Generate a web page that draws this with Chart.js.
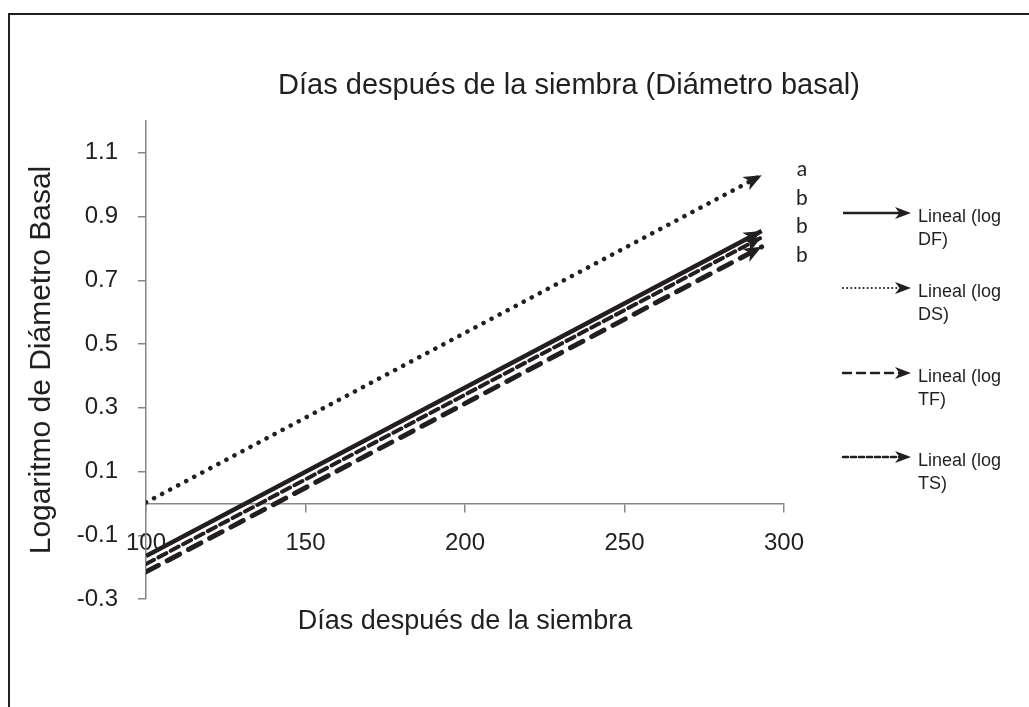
<!DOCTYPE html>
<html lang="es">
<head>
<meta charset="UTF-8">
<title>Diámetro basal</title>
<script src="https://cdn.jsdelivr.net/npm/chart.js"></script>
<style>
  body { margin: 0; background: #fff; overflow: hidden; }
  #marco { position: absolute; left: 8px; top: 13px; width: 1100px; height: 800px; border: 2px solid #231f20; }
  #contenedor { position: absolute; left: 0; top: 0; width: 1029px; height: 707px; }
</style>
</head>
<body>
<div id="marco"></div>
<div id="contenedor"><canvas id="grafico"></canvas></div>
<script>
// datos (líneas de tendencia)
const dias = [100, 293];
const logDF = [-0.165, 0.855];
const logDS = [0.003, 1.03];
const logTF = [-0.215, 0.805];
const logTS = [-0.19, 0.835];
const nombres = ['Lineal (log DF)', 'Lineal (log DS)', 'Lineal (log TF)', 'Lineal (log TS)'];
const letras = ['a', 'b', 'b', 'b'];
const ticksY = [-0.3, -0.1, 0.1, 0.3, 0.5, 0.7, 0.9, 1.1];
const ticksX = [100, 150, 200, 250, 300];

const negro = '#231f20';
const gris = '#868686';
const fuente = '"Liberation Sans", Arial, sans-serif';

function puntos(ys) {
    return dias.map((x, i) => ({ x: x, y: ys[i] }));
}

function punta(ctx, x, y, ang, largo, ancho) {
    ctx.save();
    ctx.translate(x, y);
    ctx.rotate(ang);
    ctx.beginPath();
    ctx.moveTo(0, 0);
    ctx.lineTo(-largo, -ancho / 2);
    ctx.lineTo(-largo * 0.72, 0);
    ctx.lineTo(-largo, ancho / 2);
    ctx.closePath();
    ctx.fillStyle = negro;
    ctx.fill();
    ctx.restore();
}

// estilos de cada serie (gráfico y leyenda)
const estilos = [
    { w: 4.5, dash: [], lw: 2.5, ldash: [] },
    { w: 4.5, dash: [0.1, 9], lw: 2, ldash: [0.1, 4] },
    { w: 5, dash: [14, 10], lw: 2.5, ldash: [8, 6] },
    { w: 4, dash: [9, 5], lw: 2.5, ldash: [5, 3] }
];

const flechas = {
    id: 'flechas',
    afterDatasetsDraw(chart) {
        const ctx = chart.ctx;
        chart.data.datasets.forEach((ds, i) => {
            const pts = chart.getDatasetMeta(i).data;
            const a = pts[pts.length - 2], b = pts[pts.length - 1];
            punta(ctx, b.x, b.y, Math.atan2(b.y - a.y, b.x - a.x), 18, 15);
        });
    }
};

const textos = {
    id: 'textos',
    afterDraw(chart) {
        const ctx = chart.ctx;
        const area = chart.chartArea;
        ctx.save();
        ctx.fillStyle = negro;
        // título
        ctx.font = '29px ' + fuente;
        ctx.textAlign = 'center';
        ctx.textBaseline = 'alphabetic';
        ctx.fillText('Días después de la siembra (Diámetro basal)', 569, 94);
        // letras de significancia
        ctx.font = '21px Lato, sans-serif';
        const yl = [176, 205, 233, 262];
        letras.forEach((t, i) => ctx.fillText(t, area.right + 18, yl[i]));
        // leyenda
        const yLeyenda = [213, 288, 373, 457];
        ctx.textAlign = 'left';
        ctx.font = '18px ' + fuente;
        nombres.forEach((n, i) => {
            const y = yLeyenda[i];
            const e = estilos[i];
            ctx.strokeStyle = negro;
            ctx.lineWidth = e.lw;
            ctx.lineCap = e.ldash.length ? 'round' : 'butt';
            ctx.setLineDash(e.ldash);
            ctx.beginPath();
            ctx.moveTo(843, y);
            ctx.lineTo(900, y);
            ctx.stroke();
            ctx.setLineDash([]);
            punta(ctx, 911, y, 0, 16, 12);
            const partes = n.split(' ');
            ctx.fillText(partes[0] + ' ' + partes[1], 918, y + 9);
            ctx.fillText(partes[2], 918, y + 32);
        });
        ctx.restore();
    }
};

const series = [logDF, logDS, logTF, logTS];

new Chart(document.getElementById('grafico'), {
    type: 'scatter',
    data: {
        datasets: series.map((s, i) => ({
            label: nombres[i],
            data: puntos(s),
            showLine: true,
            borderColor: negro,
            borderWidth: estilos[i].w,
            borderDash: estilos[i].dash,
            borderCapStyle: estilos[i].dash.length ? 'round' : 'butt',
            pointRadius: 0,
            order: i
        }))
    },
    options: {
        responsive: true,
        maintainAspectRatio: false,
        animation: false,
        events: [],
        layout: { padding: { left: 0, top: 121, right: 245, bottom: 108 } },
        plugins: { legend: { display: false }, tooltip: { enabled: false } },
        scales: {
            x: {
                type: 'linear',
                min: 100, max: 300,
                position: { y: 0 },
                afterBuildTicks: s => { s.ticks = ticksX.map(v => ({ value: v })); },
                ticks: { color: negro, font: { family: fuente, size: 24 }, padding: 18, maxRotation: 0 },
                grid: { drawOnChartArea: false, drawTicks: true, tickLength: 8, color: gris, lineWidth: 1.5 },
                border: { display: true, color: gris, width: 1.5 },
                title: { display: true, text: 'Días después de la siembra', color: negro,
                         font: { family: fuente, size: 27 }, padding: { top: 29, bottom: 0 } }
            },
            y: {
                type: 'linear',
                min: -0.3, max: 1.2,
                afterBuildTicks: s => { s.ticks = ticksY.map(v => ({ value: v })); },
                afterFit: s => { s.width = 146; },
                ticks: { color: negro, font: { family: fuente, size: 24 }, padding: 20,
                         callback: v => v.toFixed(1) },
                grid: { drawOnChartArea: false, drawTicks: true, tickLength: 8, color: gris, lineWidth: 1.5 },
                border: { display: true, color: gris, width: 1.5 },
                title: { display: true, text: 'Logaritmo de Diámetro Basal', color: negro,
                         font: { family: fuente, size: 30 }, padding: { top: 24, bottom: 0 } }
            }
        }
    },
    plugins: [flechas, textos]
});
</script>
</body>
</html>
